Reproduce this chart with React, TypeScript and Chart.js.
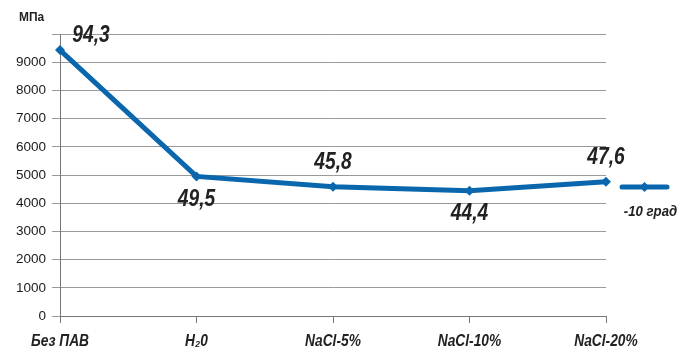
import React, { useEffect, useRef } from "react";
import { Chart, registerables } from "chart.js";

Chart.register(...registerables);

const categories = ["Без ПАВ", "H₂0", "NaCl-5%", "NaCl-10%", "NaCl-20%"];
const values = [9430, 4950, 4580, 4440, 4760];
const valueLabels = ["94,3", "49,5", "45,8", "44,4", "47,6"];
const labelPlacement = ["above-right", "below", "above", "below", "above"];
const seriesName = "-10 град";
const unitLabel = "МПа";

const BLUE = "#0a67ad";
const SANS = "'Liberation Sans', Arial, sans-serif";

function narrowText(ctx: any, text: string, x: number, y: number, font: string, sx: number) {
  ctx.save();
  ctx.font = font;
  ctx.translate(x, y);
  ctx.scale(sx, 1);
  ctx.fillText(text, 0, 0);
  ctx.restore();
}

const overlay = {
  id: "overlay",
  afterDraw(chart: any) {
    const ctx = chart.ctx;
    const meta = chart.getDatasetMeta(0);
    const xs = chart.scales.x;
    const ca = chart.chartArea;
    ctx.save();
    ctx.fillStyle = "#222";
    ctx.textAlign = "center";
    ctx.textBaseline = "middle";
    // value labels
    meta.data.forEach((p: any, i: number) => {
      const pl = labelPlacement[i];
      let x = p.x;
      let y = p.y;
      if (pl === "above-right") {
        x += 31;
        y -= 15;
      } else if (pl === "above") {
        y -= 24;
      } else {
        y += 23;
      }
      narrowText(ctx, valueLabels[i], x, y, `italic bold 24px ${SANS}`, 0.8);
    });
    // category labels
    categories.forEach((c, i) => {
      const x = xs.getPixelForValue(i);
      narrowText(ctx, c, x, ca.bottom + 26, `italic bold 16px ${SANS}`, 0.86);
    });
    // unit label
    ctx.textAlign = "left";
    narrowText(ctx, unitLabel, 19, 17, `bold 13px ${SANS}`, 0.92);
    // legend
    const lx1 = ca.right + 16;
    const lx2 = ca.right + 61;
    const ly = 187;
    ctx.strokeStyle = BLUE;
    ctx.lineWidth = 5;
    ctx.lineCap = "round";
    ctx.beginPath();
    ctx.moveTo(lx1, ly);
    ctx.lineTo(lx2, ly);
    ctx.stroke();
    const cx = (lx1 + lx2) / 2;
    ctx.fillStyle = BLUE;
    ctx.beginPath();
    ctx.moveTo(cx, ly - 5);
    ctx.lineTo(cx + 5, ly);
    ctx.lineTo(cx, ly + 5);
    ctx.lineTo(cx - 5, ly);
    ctx.closePath();
    ctx.fill();
    ctx.fillStyle = "#222";
    ctx.textAlign = "center";
    narrowText(ctx, seriesName, cx + 6, 212, `italic bold 15px ${SANS}`, 0.88);
    ctx.restore();
  },
};

export default function App() {
  const ref = useRef<HTMLCanvasElement>(null);
  useEffect(() => {
    const chart = new Chart(ref.current!, {
      type: "line",
      data: {
        labels: categories,
        datasets: [
          {
            label: seriesName,
            data: values,
            borderColor: BLUE,
            backgroundColor: BLUE,
            borderWidth: 5,
            pointStyle: "rectRot",
            pointRadius: 5,
            pointBorderWidth: 0,
            tension: 0,
          },
        ],
      },
      options: {
        animation: false,
        responsive: false,
        maintainAspectRatio: false,
        layout: { padding: { top: 34, right: 84, bottom: 0, left: 0 } },
        plugins: { legend: { display: false }, tooltip: { enabled: false } },
        scales: {
          x: {
            offset: false,
            grid: {
              display: true,
              drawOnChartArea: false,
              drawTicks: true,
              tickLength: 7,
              color: "#777",
            },
            border: { display: true, color: "#777", width: 1 },
            ticks: {
              color: "rgba(0,0,0,0)",
              font: { family: SANS, size: 15 },
              padding: 4,
              maxRotation: 0,
              autoSkip: false,
            },
            afterFit: (s: any) => {
              s.height = 35;
            },
          },
          y: {
            min: 0,
            max: 10000,
            grid: { color: "#999", tickLength: 8, lineWidth: 1 },
            border: { display: true, color: "#777" },
            ticks: {
              stepSize: 1000,
              color: "#1a1a1a",
              font: { family: SANS, size: 13.5 },
              padding: 6,
              callback: (v: any) => (v === 10000 ? "" : String(v)),
            },
            afterFit: (s: any) => {
              s.width = 60;
            },
          },
        },
      },
      plugins: [overlay],
    });
    return () => chart.destroy();
  }, []);
  return (
    <div style={{ position: "fixed", left: 0, top: 0, width: 690, height: 351, background: "#fff" }}>
      <canvas ref={ref} width={690} height={351} style={{ width: 690, height: 351 }} />
    </div>
  );
}
